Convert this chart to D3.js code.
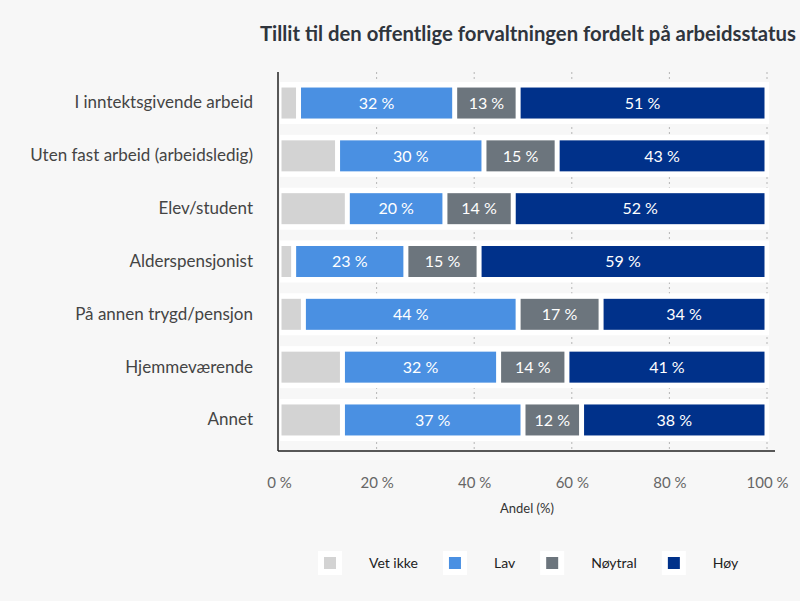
<!DOCTYPE html>
<html>
<head>
<meta charset="utf-8">
<script src="https://cdn.jsdelivr.net/npm/d3@7"></script>
<style>
  body { margin: 0; background: #f7f7f7; }
  svg { display: block; font-family: Lato, "Noto Sans", sans-serif; }
</style>
</head>
<body>
<div id="chart"></div>
<script>
// Data
var categories = [
  "I inntektsgivende arbeid",
  "Uten fast arbeid (arbeidsledig)",
  "Elev/student",
  "Alderspensjonist",
  "På annen trygd/pensjon",
  "Hjemmeværende",
  "Annet"
];
var seriesNames = ["Vet ikke", "Lav", "Nøytral", "Høy"];
var vetIkke = [4, 12, 14, 3, 5, 13, 13];
var lav     = [32, 30, 20, 23, 44, 32, 37];
var noytral = [13, 15, 14, 15, 17, 14, 12];
var hoy     = [51, 43, 52, 59, 34, 41, 38];
var xTicks = [0, 20, 40, 60, 80, 100];

var colors = ["#d3d3d3", "#4a90e2", "#6c757d", "#00318a"];

var svgWidth = 800, svgHeight = 601;

var svg = d3.select("#chart").append("svg")
  .attr("width", svgWidth)
  .attr("height", svgHeight);

svg.append("rect")
  .attr("width", svgWidth)
  .attr("height", svgHeight)
  .attr("fill", "#f7f7f7");

// build rows for the stack
var rows = categories.map(function (c, i) {
  return { cat: c, "Vet ikke": vetIkke[i], "Lav": lav[i], "Nøytral": noytral[i], "Høy": hoy[i] };
});
var stacked = d3.stack().keys(seriesNames)(rows);

// Scales
var xScale = d3.scaleLinear().domain([0, 100]).range([279, 767]);
var yScale = d3.scaleBand()
  .domain(categories)
  .range([72, 451])
  .paddingInner(0.205)
  .paddingOuter(0.19);

// Title
svg.append("text")
  .attr("x", 260)
  .attr("y", 41)
  .attr("fill", "#2f353d")
  .attr("font-size", "20.3px")
  .attr("font-weight", "bold")
  .text("Tillit til den offentlige forvaltningen fordelt på arbeidsstatus");

// dotted gridlines
svg.append("g")
  .selectAll("line")
  .data(xTicks.slice(1))
  .enter()
  .append("line")
  .attr("x1", d => xScale(d))
  .attr("x2", d => xScale(d))
  .attr("y1", 72)
  .attr("y2", 451)
  .attr("stroke", "#b5b5b5")
  .attr("stroke-width", 1)
  .attr("stroke-dasharray", "2,3");

// white row bands
svg.append("g")
  .selectAll("rect")
  .data(categories)
  .enter()
  .append("rect")
  .attr("x", xScale(0) + 1)
  .attr("y", d => yScale(d))
  .attr("width", xScale(100) - xScale(0) + 1)
  .attr("height", yScale.bandwidth())
  .attr("fill", "#ffffff");

// bars
var inset = 2.5;
var layers = svg.append("g")
  .selectAll("g")
  .data(stacked)
  .enter()
  .append("g")
  .attr("fill", (d, i) => colors[i]);

layers.selectAll("rect")
  .data(d => d)
  .enter()
  .append("rect")
  .attr("x", d => xScale(d[0]) + inset)
  .attr("width", d => Math.max(0, xScale(d[1]) - xScale(d[0]) - inset * 2))
  .attr("y", d => yScale(d.data.cat) + 5.5)
  .attr("height", yScale.bandwidth() - 11);

// value labels (not on "Vet ikke")
stacked.forEach(function (layer, li) {
  if (li === 0) return;
  svg.append("g")
    .selectAll("text")
    .data(layer)
    .enter()
    .append("text")
    .attr("x", d => (xScale(d[0]) + xScale(d[1])) / 2)
    .attr("y", d => yScale(d.data.cat) + yScale.bandwidth() / 2)
    .attr("dy", "0.36em")
    .attr("text-anchor", "middle")
    .attr("fill", "#ffffff")
    .attr("font-size", "16px")
    .text(d => (d[1] - d[0]) + " %");
});

// axis lines
svg.append("line")
  .attr("x1", 278).attr("x2", 278)
  .attr("y1", 72).attr("y2", 451)
  .attr("stroke", "#222").attr("stroke-width", 1.5);
svg.append("line")
  .attr("x1", 278).attr("x2", 775)
  .attr("y1", 451).attr("y2", 451)
  .attr("stroke", "#222").attr("stroke-width", 1.5);

// category labels
var leftAxis = d3.axisLeft(yScale).tickSize(0).tickPadding(0);
var leftG = svg.append("g")
  .attr("transform", "translate(253,0)")
  .call(leftAxis);
leftG.select(".domain").remove();
leftG.selectAll("text")
  .attr("font-family", "Lato, 'Noto Sans', sans-serif")
  .attr("font-size", "17px")
  .attr("fill", "#444");

// x tick labels
var bottomAxis = d3.axisBottom(xScale)
  .tickValues(xTicks)
  .tickSize(0)
  .tickPadding(0)
  .tickFormat(d => d + " %");
var bottomG = svg.append("g")
  .attr("transform", "translate(0,477)")
  .call(bottomAxis);
bottomG.select(".domain").remove();
bottomG.selectAll("text")
  .attr("font-family", "Lato, 'Noto Sans', sans-serif")
  .attr("font-size", "15px")
  .attr("fill", "#666");

// x axis title
svg.append("text")
  .attr("x", 527)
  .attr("y", 508)
  .attr("dy", "0.35em")
  .attr("text-anchor", "middle")
  .attr("font-size", "13px")
  .attr("fill", "#333")
  .text("Andel (%)");

// Legend
var legend = svg.append("g").attr("transform", "translate(0,563)");
var lx = 330;
seriesNames.forEach(function (name, i) {
  var item = legend.append("g").attr("transform", "translate(" + lx + ",0)");
  item.append("rect")
    .attr("x", -12).attr("y", -12)
    .attr("width", 24).attr("height", 24)
    .attr("fill", "#ffffff");
  item.append("rect")
    .attr("x", -6).attr("y", -6)
    .attr("width", 12).attr("height", 12)
    .attr("fill", colors[i]);
  var t = item.append("text")
    .attr("x", 39)
    .attr("dy", "0.35em")
    .attr("font-size", "14px")
    .attr("fill", "#222")
    .text(name);
  lx += 39 + t.node().getComputedTextLength() + 37;
});
</script>
</body>
</html>
